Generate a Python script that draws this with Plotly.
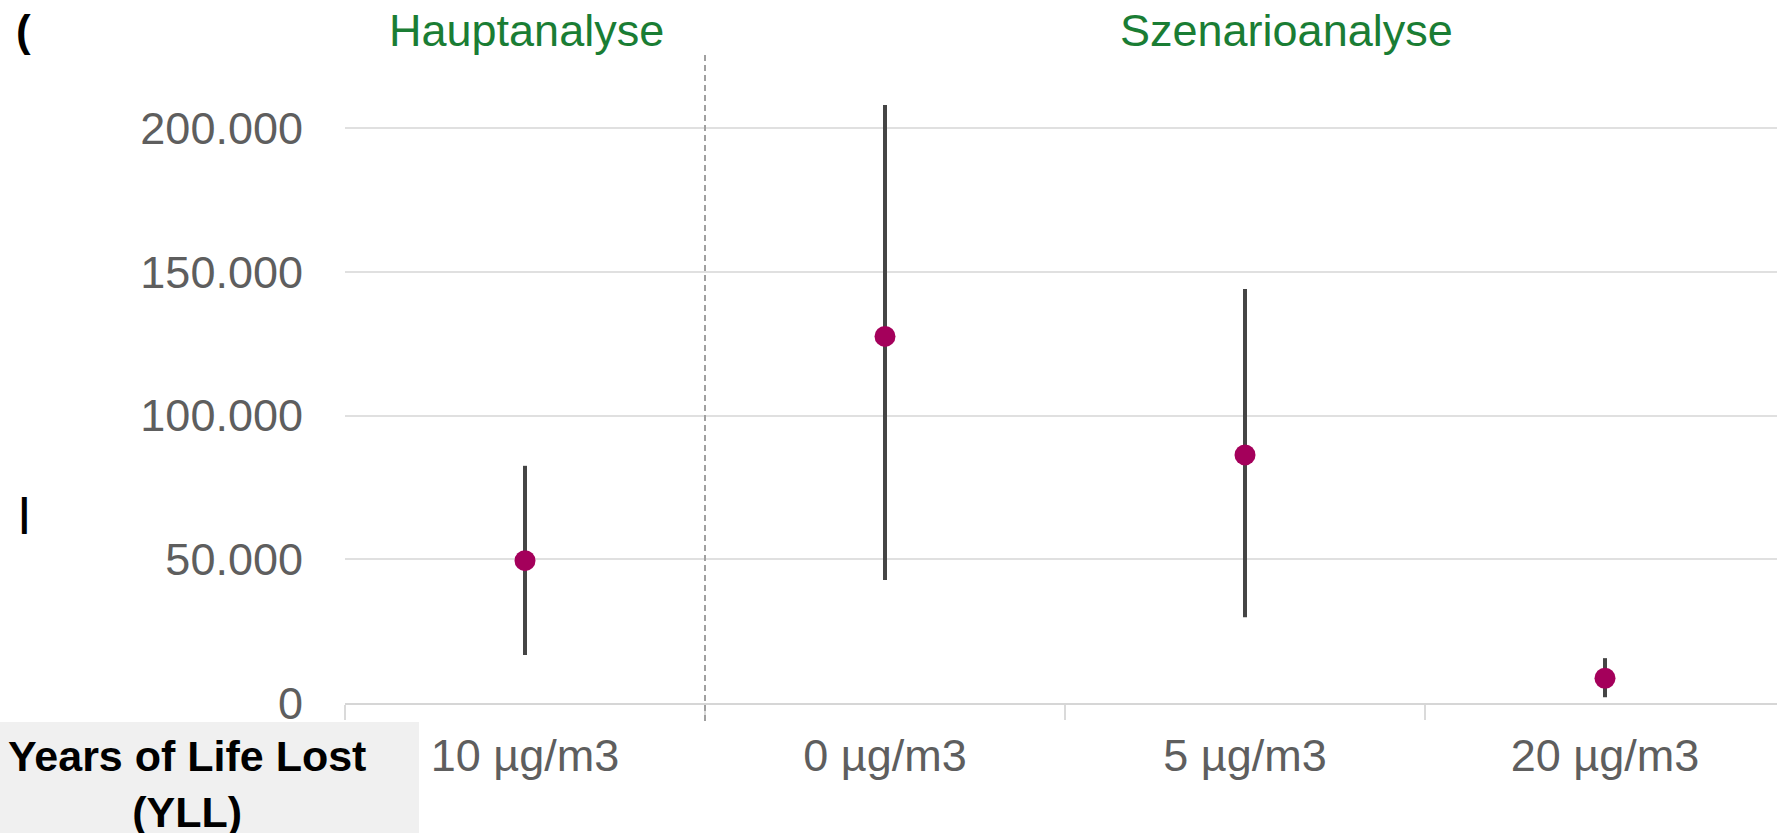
import plotly.graph_objects as go

# Fine particulate matter (PM2.5) threshold scenarios
categories = ["10 µg/m3", "0 µg/m3", "5 µg/m3", "20 µg/m3"]
yll_mid = [49500, 127500, 86300, 8600]
yll_low = [16700, 42800, 29800, 2000]
yll_high = [82500, 208000, 144000, 15600]

y_tickvals = [0, 50000, 100000, 150000, 200000]
y_ticktext = ["0", "50.000", "100.000", "150.000", "200.000"]

group_titles = ["Hauptanalyse", "Szenarioanalyse"]
row_label = "Years of Life Lost<br>(YLL)"

W, H = 1777, 833
PLOT_L, PLOT_R, PLOT_T, PLOT_B = 345, 1777, 51, 703
CAT_W = 360.0


def px_x(px):
    return (px - PLOT_L) / (PLOT_R - PLOT_L)


def px_y(py):
    return (PLOT_B - py) / (PLOT_B - PLOT_T)


err_plus = [h - m for h, m in zip(yll_high, yll_mid)]
err_minus = [m - l for m, l in zip(yll_mid, yll_low)]

fig = go.Figure()
fig.add_trace(go.Scatter(
    x=categories,
    y=yll_mid,
    mode="markers",
    marker=dict(color="#a4005b", size=21, line=dict(width=0)),
    error_y=dict(type="data", symmetric=False, array=err_plus, arrayminus=err_minus,
                 color="#454545", thickness=4, width=0),
    showlegend=False,
    hoverinfo="skip",
))

per_px = 200000 / (PLOT_B - 128)
y_top = (PLOT_B - PLOT_T) * per_px
x_right = -0.5 + (PLOT_R - PLOT_L) / CAT_W

font_family = "Liberation Sans, Arial, sans-serif"

fig.update_layout(
    width=W, height=H,
    margin=dict(l=PLOT_L, r=W - PLOT_R, t=PLOT_T, b=H - PLOT_B),
    paper_bgcolor="white",
    plot_bgcolor="white",
    xaxis=dict(
        type="category",
        range=[-0.5, x_right],
        tickson="boundaries", ticks="outside", ticklen=15, tickwidth=2, tickcolor="#dadada",
        showgrid=False, zeroline=False,
        showline=True, linecolor="#d6d6d6", linewidth=2,
        tickfont=dict(family=font_family, size=45, color="#5e5e5e"),
        ticklabelstandoff=12,
    ),
    yaxis=dict(
        range=[0, y_top],
        tickmode="array", tickvals=y_tickvals, ticktext=y_ticktext,
        showgrid=True, gridcolor="#e0e0e0", gridwidth=2,
        zeroline=False, showline=False, ticks="",
        tickfont=dict(family=font_family, size=45, color="#5e5e5e"),
        ticklabelstandoff=41,
    ),
)

# divider between main analysis and scenario analysis
fig.add_shape(type="line", xref="paper", yref="paper",
              x0=px_x(705), x1=px_x(705), y0=px_y(721), y1=px_y(51),
              line=dict(color="#a0a0a0", width=2, dash="6px,4px"))

# group headings
fig.add_annotation(text=group_titles[0], xref="paper", yref="paper", x=px_x(526), y=px_y(31),
                   showarrow=False, xanchor="center", yanchor="middle",
                   font=dict(family=font_family, size=45, color="#1a7d34"))
fig.add_annotation(text=group_titles[1], xref="paper", yref="paper", x=px_x(1286), y=px_y(31),
                   showarrow=False, xanchor="center", yanchor="middle",
                   font=dict(family=font_family, size=45, color="#1a7d34"))

# row label box
fig.add_shape(type="rect", xref="paper", yref="paper",
              x0=px_x(0), x1=px_x(419), y0=px_y(833), y1=px_y(722),
              fillcolor="#f0f0f0", line=dict(width=0), layer="above")
fig.add_annotation(text="<b>" + row_label + "</b>", xref="paper", yref="paper",
                   x=px_x(187), y=px_y(784), showarrow=False,
                   xanchor="center", yanchor="middle", align="center",
                   font=dict(family=font_family, size=43, color="black"))

# clipped marks at the left edge
fig.add_annotation(text="<b>(</b>", xref="paper", yref="paper", x=px_x(14), y=px_y(30),
                   showarrow=False, xanchor="left", yanchor="middle",
                   font=dict(family=font_family, size=44, color="black"))
fig.add_annotation(text="<b>|</b>", xref="paper", yref="paper", x=px_x(17), y=px_y(512),
                   showarrow=False, xanchor="left", yanchor="middle",
                   font=dict(family=font_family, size=38, color="black"))

fig.write_html("out.html")
